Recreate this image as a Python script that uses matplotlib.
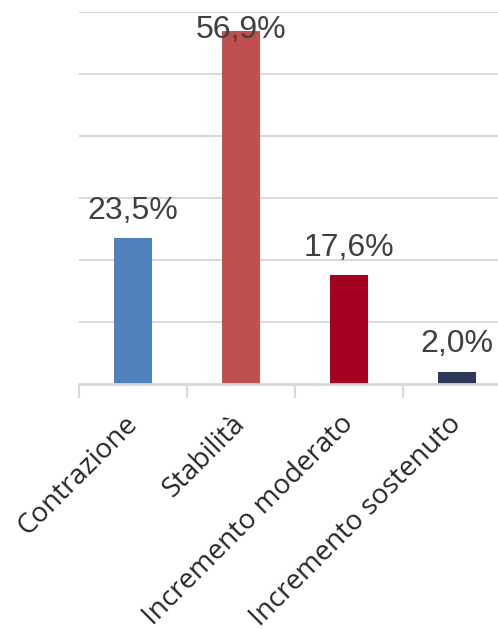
import numpy as np
from matplotlib import pyplot as plt
from matplotlib.ticker import FixedLocator, NullFormatter

# data
categories = ["Contrazione", "Stabilità", "Incremento moderato", "Incremento sostenuto"]
values = [23.5, 56.9, 17.6, 2.0]
labels = ["23,5%", "56,9%", "17,6%", "2,0%"]
colors = ["#4F81BD", "#C0504D", "#A50021", "#2E3857"]

W, H = 498, 629
fig = plt.figure(figsize=(W / 100, H / 100), dpi=100)

# plot area: left at 79px, top gridline at 12px, baseline at 384px
ax = fig.add_axes([79 / W, (H - 384) / H, 1 - 79 / W, (384 - 12) / H])
x = np.arange(len(categories))
ax.bar(x, values, width=0.36, color=colors, zorder=3)

ax.set_ylim(0, 60)
ax.set_xlim(-0.5, -0.5 + (W - 79) / 108)
ax.set_yticks(np.arange(10, 61, 10))
ax.yaxis.grid(True, color="#D9D9D9", linewidth=1.5, zorder=0)
ax.tick_params(axis="y", left=False, labelleft=False)

for s in ["top", "right", "left"]:
    ax.spines[s].set_visible(False)
ax.spines["bottom"].set_color("#D9D9D9")
ax.spines["bottom"].set_linewidth(2)
ax.spines["bottom"].set_zorder(4)

# ticks between categories, labels at centres
ax.xaxis.set_major_locator(FixedLocator(np.arange(len(categories) + 1) - 0.5))
ax.xaxis.set_major_formatter(NullFormatter())
ax.tick_params(axis="x", which="major", length=10, width=1.5, color="#D9D9D9")
ax.set_xticks(x, minor=True)
ax.set_xticklabels(categories, minor=True, rotation=45, ha="right", va="center",
                   rotation_mode="anchor", fontsize=20, family="Open Sans",
                   color="#262626")
ax.tick_params(axis="x", which="minor", length=0, pad=26)

# value labels (clamped inside the plot area like the original)
for xi, v, lab in zip(x, values, labels):
    ax.text(xi, min(v + 3.1, 55.8), lab, ha="center", va="baseline",
            fontsize=23, family="Liberation Sans", color="#404040", zorder=5)

fig.savefig("out.png", dpi=100)
